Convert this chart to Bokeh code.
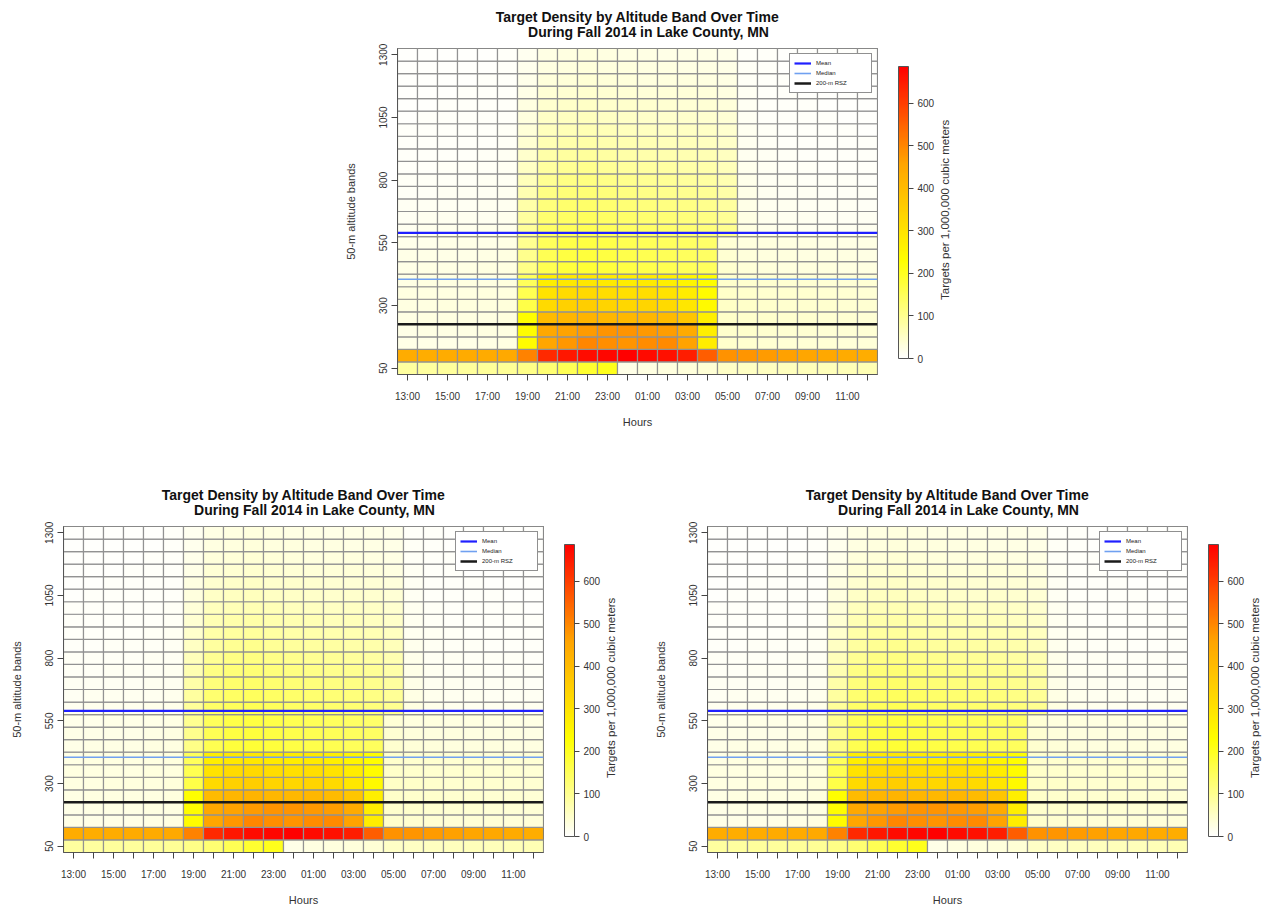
from math import pi

from bokeh.core.properties import value
from bokeh.embed import file_html
from bokeh.layouts import column, row
from bokeh.models import (ColorBar, ColumnDataSource, FixedTicker, Legend,
                          LegendItem, LinearColorMapper, Range1d, Spacer)
from bokeh.plotting import figure
from bokeh.resources import INLINE

FONT = "Liberation Sans"

# hour-of-day columns, starting at 13:00
hours = ["13:00", "14:00", "15:00", "16:00", "17:00", "18:00", "19:00", "20:00",
         "21:00", "22:00", "23:00", "00:00", "01:00", "02:00", "03:00", "04:00",
         "05:00", "06:00", "07:00", "08:00", "09:00", "10:00", "11:00", "12:00"]

# 50-m altitude bands (m)
altitude_bands = [50, 100, 150, 200, 250, 300, 350, 400, 450, 500, 550, 600, 650,
                  700, 750, 800, 850, 900, 950, 1000, 1050, 1100, 1150, 1200, 1250, 1300]

# targets per 1,000,000 m^3, one row per altitude band (same order as altitude_bands)
density = [
    [86, 88, 90, 91, 93, 96, 108, 128, 155, 185, 205, 24, 28, 30, 33, 38, 52, 56, 58, 60, 62, 64, 66, 68],
    [438, 436, 438, 440, 442, 445, 505, 628, 652, 668, 676, 686, 672, 664, 645, 555, 485, 478, 470, 462, 455, 448, 442, 436],
    [22, 23, 24, 24, 25, 27, 238, 455, 475, 500, 490, 480, 492, 495, 460, 275, 46, 44, 42, 40, 39, 38, 37, 36],
    [24, 25, 26, 26, 27, 29, 236, 450, 460, 470, 482, 480, 472, 468, 440, 272, 48, 46, 44, 42, 41, 40, 39, 38],
    [26, 27, 28, 28, 29, 31, 232, 400, 415, 420, 412, 408, 412, 400, 375, 268, 50, 48, 46, 44, 43, 42, 41, 40],
    [28, 29, 30, 30, 31, 33, 165, 322, 345, 352, 340, 332, 336, 322, 292, 242, 52, 49, 47, 45, 44, 43, 42, 41],
    [27, 28, 29, 29, 30, 32, 158, 300, 320, 326, 315, 306, 312, 300, 276, 238, 50, 47, 45, 44, 43, 42, 41, 40],
    [26, 27, 28, 28, 29, 31, 150, 272, 288, 292, 282, 276, 283, 270, 252, 232, 48, 45, 43, 42, 41, 40, 39, 38],
    [24, 25, 26, 26, 27, 29, 108, 158, 176, 182, 176, 168, 162, 156, 150, 145, 44, 36, 34, 32, 31, 30, 29, 28],
    [22, 23, 24, 24, 25, 27, 104, 154, 170, 176, 170, 163, 157, 151, 146, 141, 42, 34, 32, 30, 29, 28, 27, 26],
    [20, 21, 22, 22, 23, 25, 100, 150, 165, 170, 165, 158, 152, 147, 142, 136, 40, 32, 30, 28, 27, 26, 25, 25],
    [16, 17, 18, 18, 19, 21, 92, 138, 150, 154, 148, 142, 137, 132, 128, 120, 100, 28, 20, 18, 16, 15, 15, 14],
    [13, 14, 15, 15, 16, 18, 86, 130, 142, 146, 140, 134, 129, 124, 120, 112, 95, 26, 18, 16, 14, 13, 13, 12],
    [11, 12, 13, 13, 14, 16, 78, 120, 132, 136, 130, 124, 119, 114, 110, 104, 88, 24, 16, 14, 12, 11, 11, 10],
    [10, 10, 11, 11, 12, 14, 70, 110, 121, 125, 119, 113, 108, 104, 100, 94, 80, 22, 14, 12, 11, 10, 10, 9],
    [9, 9, 10, 10, 11, 13, 62, 99, 110, 114, 108, 102, 98, 94, 90, 85, 72, 20, 13, 11, 10, 9, 9, 8],
    [8, 8, 9, 9, 10, 12, 55, 88, 98, 102, 96, 91, 87, 84, 80, 76, 64, 18, 12, 10, 9, 8, 8, 7],
    [7, 7, 8, 8, 9, 11, 48, 78, 87, 90, 85, 80, 77, 74, 71, 67, 57, 16, 11, 9, 8, 7, 7, 6],
    [6, 7, 7, 8, 8, 10, 42, 68, 76, 79, 74, 70, 67, 64, 62, 58, 50, 15, 10, 8, 7, 7, 6, 6],
    [6, 6, 7, 7, 8, 9, 37, 59, 66, 69, 65, 61, 58, 56, 54, 51, 44, 14, 9, 8, 7, 6, 6, 5],
    [5, 6, 6, 7, 7, 8, 32, 51, 57, 60, 56, 53, 50, 48, 47, 44, 38, 13, 8, 7, 6, 6, 5, 5],
    [5, 5, 6, 6, 7, 8, 28, 44, 49, 52, 48, 46, 43, 42, 40, 38, 33, 12, 8, 7, 6, 5, 5, 5],
    [4, 5, 5, 6, 6, 7, 24, 38, 42, 45, 42, 40, 37, 36, 35, 33, 29, 11, 7, 6, 5, 5, 4, 4],
    [4, 4, 5, 5, 6, 7, 21, 33, 37, 39, 36, 34, 32, 31, 30, 28, 25, 10, 7, 6, 5, 4, 4, 4],
    [3, 4, 4, 5, 5, 6, 18, 29, 32, 34, 31, 30, 28, 27, 26, 25, 22, 9, 6, 5, 4, 4, 3, 3],
    [3, 3, 4, 4, 5, 6, 16, 25, 28, 30, 28, 26, 25, 24, 23, 22, 19, 8, 6, 5, 4, 3, 3, 3],
]

# reference lines (plot altitude coordinate)
mean_altitude = 590
median_altitude = 405
rsz_altitude = 225

y_ticks = [50, 300, 550, 800, 1050, 1300]
colorbar_ticks = [0, 100, 200, 300, 400, 500, 600]
colorbar_title = "Targets per 1,000,000 cubic meters"
title_lines = ["Target Density by Altitude Band Over Time",
               "During Fall 2014 in Lake County, MN"]

# panel geometry (px)
BORDER_L, FRAME_W, BORDER_R = 62, 480, 61
BORDER_T, FRAME_H, BORDER_B = 6, 326, 57
TITLE_H = 42
MAIN_H = BORDER_T + FRAME_H + BORDER_B
CAPTION_W = 18
PANEL_H = TITLE_H + MAIN_H


def ramp(stops, n):
    """Linear RGB ramp through the given colour stops."""
    out = []
    segs = len(stops) - 1
    for i in range(n):
        t = i / (n - 1) * segs
        k = min(int(t), segs - 1)
        f = t - k
        a, b = stops[k], stops[k + 1]
        rgb = [round(a[j] + (b[j] - a[j]) * f) for j in range(3)]
        out.append("#%02x%02x%02x" % tuple(rgb))
    return out


palette = ramp([(255, 255, 255), (255, 255, 0), (255, 165, 0), (255, 0, 0)], 256)
vmax = max(max(r) for r in density)


def blank_strip(width, height):
    s = figure(width=width, height=height, x_range=Range1d(0, width), y_range=Range1d(0, height),
               output_backend="svg", toolbar_location=None, min_border=0,
               x_axis_location=None, y_axis_location=None, title=None)
    s.outline_line_color = None
    s.background_fill_color = "white"
    s.border_fill_color = "white"
    s.grid.visible = False
    return s


def make_title():
    w = BORDER_L + FRAME_W + BORDER_R
    s = blank_strip(w, TITLE_H)
    cx = BORDER_L + FRAME_W / 2
    s.text(x=[cx, cx + 11], y=[TITLE_H - 16, TITLE_H - 31], text=title_lines,
           text_align="center", text_baseline="middle", text_font=value(FONT),
           text_font_size="14px", text_font_style="bold", text_color="#111111")
    return s


def make_caption():
    # rotated caption, starting near the bottom of the colour bar and reading upwards
    s = blank_strip(CAPTION_W, MAIN_H)
    s.text(x=[6], y=[89], text=[colorbar_title], angle=pi / 2,
           text_align="left", text_baseline="middle",
           text_font=value(FONT), text_font_size="11.5px", text_color="#333333")
    return s


def make_heatmap():
    xs, ys, vals = [], [], []
    for band, band_vals in zip(altitude_bands, density):
        for i, v in enumerate(band_vals):
            xs.append(i + 1)
            ys.append(band)
            vals.append(v)
    src = ColumnDataSource(dict(x=xs, y=ys, v=vals))
    band_h = altitude_bands[1] - altitude_bands[0]
    x0, x1 = 0.5, len(hours) + 0.5

    mapper = LinearColorMapper(palette=palette, low=0, high=vmax)

    p = figure(width=BORDER_L + FRAME_W + BORDER_R, height=MAIN_H,
               x_range=Range1d(x0, x1),
               y_range=Range1d(altitude_bands[0] - band_h / 2, altitude_bands[-1] + band_h / 2),
               output_backend="svg", toolbar_location=None, title=None,
               min_border_left=BORDER_L, min_border_right=BORDER_R,
               min_border_top=BORDER_T, min_border_bottom=BORDER_B)
    p.background_fill_color = "white"
    p.border_fill_color = "white"
    p.outline_line_color = "#555555"
    p.outline_line_width = 1
    p.grid.visible = False

    p.rect(x="x", y="y", width=1, height=band_h, source=src,
           fill_color={"field": "v", "transform": mapper},
           line_color="#929292", line_width=1.2)

    r_mean = p.line([x0, x1], [mean_altitude, mean_altitude], line_color="#1f1fff", line_width=2.2)
    r_median = p.line([x0, x1], [median_altitude, median_altitude], line_color="#70a0f0", line_width=1.6)
    r_rsz = p.line([x0, x1], [rsz_altitude, rsz_altitude], line_color="#1a1a1a", line_width=2.5)

    legend = Legend(items=[LegendItem(label="Mean", renderers=[r_mean]),
                           LegendItem(label="Median", renderers=[r_median]),
                           LegendItem(label="200-m RSZ", renderers=[r_rsz])],
                    location="top_right", margin=5, padding=4, spacing=0,
                    glyph_width=17, glyph_height=10, label_height=10, label_width=51,
                    label_standoff=5, label_text_font_size="6px", label_text_font=FONT,
                    label_text_color="#222222",
                    border_line_color="#222222", border_line_width=1,
                    background_fill_color="white", background_fill_alpha=1)
    p.add_layout(legend)

    # x axis: a tick every hour, a label every other hour
    xa = p.xaxis[0]
    xa.ticker = FixedTicker(ticks=list(range(1, len(hours) + 1, 2)),
                            minor_ticks=list(range(2, len(hours) + 1, 2)))
    xa.major_label_overrides = {i + 1: h for i, h in enumerate(hours)}
    xa.axis_label = "Hours"
    ya = p.yaxis[0]
    ya.ticker = FixedTicker(ticks=y_ticks)
    ya.axis_label = "50-m altitude bands"
    ya.major_label_orientation = "vertical"

    for ax in (xa, ya):
        ax.axis_line_color = "#555555"
        ax.major_tick_line_color = "#444444"
        ax.minor_tick_line_color = "#444444"
        ax.major_tick_out = 6
        ax.major_tick_in = 0
        ax.minor_tick_out = 6
        ax.minor_tick_in = 0
        ax.major_label_text_font = FONT
        ax.major_label_text_font_size = "10px"
        ax.major_label_text_color = "#333333"
        ax.axis_label_text_font = FONT
        ax.axis_label_text_font_size = "11px"
        ax.axis_label_text_font_style = "normal"
        ax.axis_label_text_color = "#333333"
    xa.major_label_standoff = 10
    xa.axis_label_standoff = 11
    ya.major_label_standoff = 4
    ya.axis_label_standoff = 20

    cb = ColorBar(color_mapper=mapper, ticker=FixedTicker(ticks=colorbar_ticks),
                  width=10, height=292, location=(21, 16), padding=0, margin=0,
                  major_tick_out=5, major_tick_in=0, major_tick_line_color="#444444",
                  label_standoff=4, major_label_text_font=FONT,
                  major_label_text_font_size="10px", major_label_text_color="#333333",
                  bar_line_color="#555555", border_line_color=None,
                  background_fill_color=None)
    p.add_layout(cb, "right")
    return p


def make_panel():
    return column(make_title(), row(make_heatmap(), make_caption()))


layout = column(
    row(Spacer(width=335, height=PANEL_H), make_panel()),
    Spacer(width=10, height=47),
    row(Spacer(width=1, height=PANEL_H), make_panel(),
        Spacer(width=23, height=PANEL_H), make_panel()),
)

open("out.html", "w").write(file_html(layout, INLINE))
